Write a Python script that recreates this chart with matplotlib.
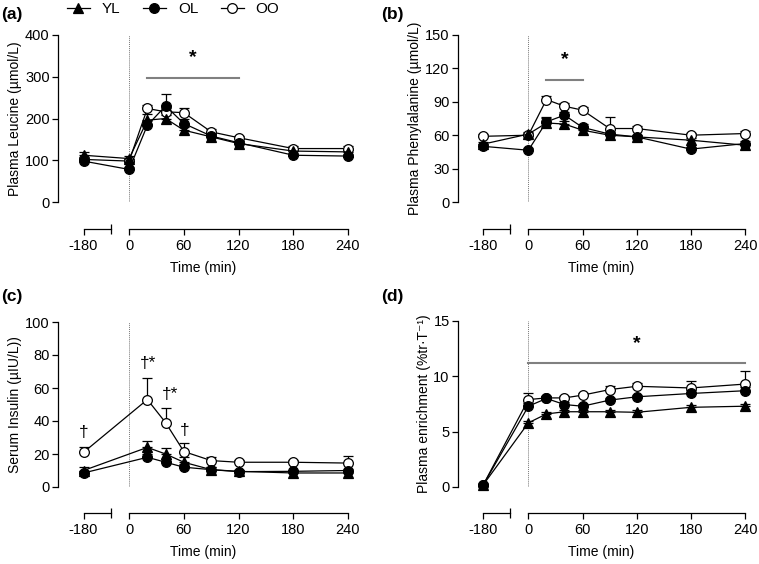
import numpy as np
import matplotlib
matplotlib.use("Agg")
import matplotlib.pyplot as plt
import matplotlib.transforms as mtransforms
from matplotlib.lines import Line2D

plt.rcParams['font.family'] = ['Liberation Sans', 'DejaVu Sans']
plt.rcParams['font.size'] = 10

# time points (min); -180 sits on a separate, broken segment of the x axis
time = np.array([-180, 0, 20, 40, 60, 90, 120, 180, 240])
time_ins = np.array([-180, 20, 40, 60, 90, 120, 180, 240])

# (a) plasma leucine
leu_yl = [112, 104, 196, 200, 172, 156, 140, 122, 120]
leu_ol = [98, 78, 184, 230, 188, 158, 142, 112, 110]
leu_oo = [102, 98, 224, 216, 214, 168, 154, 128, 128]
leu_yl_err = [8, 6, 15, 8, 8, 6, 6, 6, 5]
leu_ol_err = [6, 5, 10, 28, 10, 6, 5, 5, 5]
leu_oo_err = [6, 5, 8, 10, 12, 6, 5, 5, 5]

# (b) plasma phenylalanine
phe_yl = [52, 61, 71, 70, 64.5, 60, 58.5, 55.5, 51]
phe_ol = [50, 46.5, 72, 78, 67, 61, 58.5, 47.5, 52.5]
phe_oo = [59, 60, 92, 86, 82.5, 66, 66, 60, 61.5]
phe_yl_err = [2, 2, 5.5, 3, 3, 2, 2, 2, 2]
phe_ol_err = [2, 2, 3, 3, 3, 2, 2, 2, 2]
phe_oo_err = [2, 2, 3, 3, 3, 10.5, 2, 2, 2]

# (c) serum insulin
ins_yl = [10, 24, 20, 15, 10.5, 9.5, 8.5, 8.5]
ins_ol = [8.5, 18, 15, 12, 10.5, 9.3, 9.5, 10]
ins_oo = [21, 53, 39, 21.5, 16, 15, 15, 14.5]
ins_yl_err = [2, 4, 3.5, 3, 1.5, 1, 1.5, 1.5]
ins_ol_err = [1.5, 2, 2, 2, 1.5, 1, 1, 1]
ins_oo_err = [3.5, 13, 9, 5, 2, 1.5, 1.5, 4.5]

# (d) plasma enrichment
enr_yl = [0.2, 5.8, 6.6, 6.8, 6.8, 6.8, 6.75, 7.2, 7.3]
enr_ol = [0.2, 7.3, 8.0, 7.45, 7.3, 7.85, 8.15, 8.45, 8.7]
enr_oo = [0.2, 7.9, 8.05, 8.05, 8.3, 8.8, 9.1, 8.95, 9.3]
enr_yl_err = [0.1, 0.2, 0.2, 0.2, 0.2, 0.2, 0.2, 0.2, 0.2]
enr_ol_err = [0.1, 0.3, 0.2, 0.2, 0.2, 0.2, 0.2, 0.3, 0.3]
enr_oo_err = [0.1, 0.55, 0.2, 0.2, 0.2, 0.3, 0.3, 0.65, 1.15]

groups = ['YL', 'OL', 'OO']
markers = {'YL': '^', 'OL': 'o', 'OO': 'o'}
faces = {'YL': 'black', 'OL': 'black', 'OO': 'white'}

BREAK_X = -50   # where -180 is drawn
SEG_END = -20   # end of the short left axis segment


def xpos(t):
    t = np.asarray(t)
    return np.where(t < 0, BREAK_X, t)


fig = plt.figure(figsize=(7.59, 5.64), dpi=100)
W, H = 759, 564


def make_ax(left, top, bottom, right):
    return fig.add_axes([left / W, 1 - bottom / H, (right - left) / W, (bottom - top) / H])


def panel(ax, t, series, errs, ymax, ystep, ylabel, offset_px):
    # draw OO first so filled symbols sit on top
    for g in ['OO', 'OL', 'YL']:
        y = np.array(series[g], dtype=float)
        e = np.array(errs[g], dtype=float)
        ax.errorbar(xpos(t), y, yerr=[np.zeros_like(e), e], fmt='none',
                    ecolor='black', elinewidth=0.9, capsize=3.5, capthick=0.9,
                    clip_on=False, zorder=2)
        ax.plot(xpos(t), y, color='black', lw=0.9, marker=markers[g],
                ms=7, mfc=faces[g], mec='black', mew=0.9,
                clip_on=False, zorder=3)
    ax.set_xlim(-78, 240)
    ax.set_ylim(0, ymax)
    ax.set_yticks(np.arange(0, ymax + 0.01, ystep))
    ax.axvline(0, ymin=0, ymax=1, color='#777777', lw=0.7, ls=(0, (1, 1)), zorder=1)
    ax.spines['top'].set_visible(False)
    ax.spines['right'].set_visible(False)
    ax.spines['left'].set_linewidth(0.9)
    ax.spines['bottom'].set_linewidth(0.9)
    off_pt = offset_px * 0.72
    ax.spines['bottom'].set_position(('outward', off_pt))
    ax.spines['bottom'].set_bounds(0, 240)
    ax.set_xticks([BREAK_X, 0, 60, 120, 180, 240])
    ax.set_xticklabels(['-180', '0', '60', '120', '180', '240'])
    ax.set_xticks([SEG_END], minor=True)
    ax.tick_params(axis='both', which='major', direction='out', length=4, width=0.9,
                   pad=2, labelsize=10.5)
    ax.tick_params(axis='x', which='minor', direction='inout', length=7, width=0.9)
    ax.tick_params(axis='x', which='major', pad=3)
    # short left segment of the broken x axis
    trans = mtransforms.blended_transform_factory(ax.transData, ax.transAxes) + \
        mtransforms.ScaledTranslation(0, -off_pt / 72, fig.dpi_scale_trans)
    ax.add_line(Line2D([BREAK_X, SEG_END], [0, 0], transform=trans, color='black',
                       lw=0.9, clip_on=False))
    ax.set_xlabel('Time (min)', labelpad=6)
    ax.set_ylabel(ylabel, labelpad=2)


def sig_bar(ax, x0, x1, y, ystar):
    ax.plot([x0, x1], [y, y], color='#808080', lw=1.5, clip_on=False, zorder=1)
    ax.text((x0 + x1) / 2, ystar, '*', ha='center', va='center', fontsize=14,
            fontweight='bold')


ax_a = make_ax(58, 35, 202, 348)
panel(ax_a, time, {'YL': leu_yl, 'OL': leu_ol, 'OO': leu_oo},
      {'YL': leu_yl_err, 'OL': leu_ol_err, 'OO': leu_oo_err},
      400, 100, 'Plasma Leucine (µmol/L)', 27)
sig_bar(ax_a, 20, 120, 298, 345)

ax_b = make_ax(458, 35, 202, 745)
panel(ax_b, time, {'YL': phe_yl, 'OL': phe_ol, 'OO': phe_oo},
      {'YL': phe_yl_err, 'OL': phe_ol_err, 'OO': phe_oo_err},
      150, 30, 'Plasma Phenylalanine (µmol/L)', 27)
sig_bar(ax_b, 20, 60, 110, 128)

ax_c = make_ax(58, 322, 487, 348)
panel(ax_c, time_ins, {'YL': ins_yl, 'OL': ins_ol, 'OO': ins_oo},
      {'YL': ins_yl_err, 'OL': ins_ol_err, 'OO': ins_oo_err},
      100, 20, 'Serum Insulin (µIU/L))', 26)
for tx, ty, s in [(-180, 33, '†'), (21, 75, '†*'), (45, 56, '†*'), (61, 34, '†')]:
    ax_c.text(xpos(tx), ty, s, ha='center', va='center', fontsize=12.5)

ax_d = make_ax(458, 321, 487, 745)
panel(ax_d, time, {'YL': enr_yl, 'OL': enr_ol, 'OO': enr_oo},
      {'YL': enr_yl_err, 'OL': enr_ol_err, 'OO': enr_oo_err},
      15, 5, 'Plasma enrichment (%tr·T⁻¹)', 26)
sig_bar(ax_d, 0, 240, 11.25, 13.0)

for lbl, x, y in [('(a)', 1, 15), ('(b)', 381, 15), ('(c)', 1, 296), ('(d)', 381, 296)]:
    fig.text(x / W, 1 - y / H, lbl, fontsize=12.5, fontweight='bold', ha='left', va='center')

handles = [Line2D([], [], color='black', lw=0.9, marker=markers[g], ms=7,
                  mfc=faces[g], mec='black', mew=0.9) for g in groups]
fig.legend(handles, groups, loc='center left', bbox_to_anchor=(67 / W, 1 - 9 / H),
           ncol=3, frameon=False, handlelength=1.5, handletextpad=0.8,
           columnspacing=1.45, fontsize=11, borderpad=0, borderaxespad=0)

fig.savefig('out.png', dpi=100)
